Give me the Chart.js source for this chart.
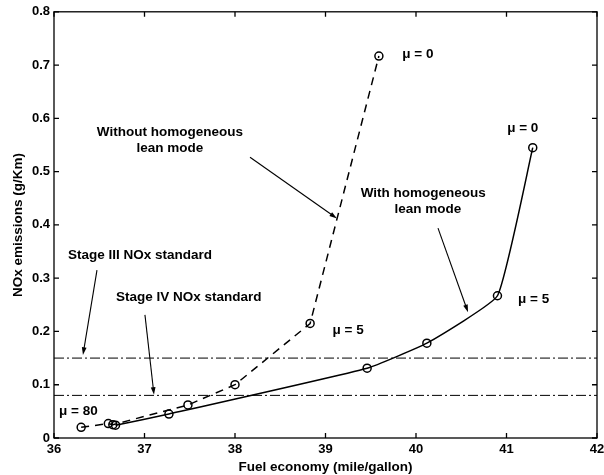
<!DOCTYPE html>
<html><head><meta charset="utf-8">
<script src="https://cdn.jsdelivr.net/npm/chart.js@4/dist/chart.umd.min.js"></script>
<style>html,body{margin:0;padding:0;background:#fff}#wrap{width:604px;height:475px;position:relative}</style>
</head><body><div id="wrap"><canvas id="c"></canvas></div>
<script>
// ---- data ----
const withoutX = [36.30, 36.60, 36.65, 37.48, 38.00, 38.83, 39.59];
const withoutY = [0.020, 0.027, 0.025, 0.062, 0.100, 0.215, 0.717];
const withX    = [36.68, 37.27, 39.46, 40.12, 40.90, 41.29];
const withY    = [0.024, 0.045, 0.131, 0.178, 0.267, 0.545];
const stageX   = [36, 42];
const stageIII = [0.15, 0.15];
const stageIV  = [0.08, 0.08];
const xTicks = [36, 37, 38, 39, 40, 41, 42];
const yTicks = [0, 0.1, 0.2, 0.3, 0.4, 0.5, 0.6, 0.7, 0.8];
const xTitle = 'Fuel economy (mile/gallon)';
const yTitle = 'NOx emissions (g/Km)';
// annotation texts (data coordinates)
const noteText = ['Without homogeneous', 'lean mode', 'With homogeneous', 'lean mode',
                  'μ = 0', 'μ = 0', 'μ = 5', 'μ = 5', 'μ = 80',
                  'Stage III NOx standard', 'Stage IV NOx standard'];
const noteX = [37.28, 37.28, 40.08, 40.13, 40.02, 41.18, 39.25, 41.30, 36.27, 36.95, 37.49];
const noteY = [0.573, 0.543, 0.459, 0.429, 0.720, 0.581, 0.202, 0.260, 0.051, 0.343, 0.264];
// annotation arrows (data coordinates: from -> to)
const arrowX0 = [38.166, 40.243, 36.475, 37.005];
const arrowY0 = [0.527, 0.394, 0.315, 0.231];
const arrowX1 = [39.127, 40.575, 36.320, 37.105];
const arrowY1 = [0.412, 0.236, 0.156, 0.081];

const FONT = '"Liberation Sans", Arial, Helvetica, sans-serif';
const pts = (xs, ys) => xs.map((x, i) => ({x, y: ys[i]}));

const frame = {
  id: 'frame',
  afterDatasetsDraw(chart) {
    const {ctx, chartArea: a, scales: {x, y}} = chart;
    ctx.save();
    ctx.strokeStyle = '#000';
    ctx.lineWidth = 1.3;
    ctx.strokeRect(a.left, a.top, a.right - a.left, a.bottom - a.top);
    const L = 5;
    ctx.beginPath();
    xTicks.forEach(v => { const px = x.getPixelForValue(v);
      ctx.moveTo(px, a.bottom); ctx.lineTo(px, a.bottom - L);
      ctx.moveTo(px, a.top); ctx.lineTo(px, a.top + L); });
    yTicks.forEach(v => { const py = y.getPixelForValue(v);
      ctx.moveTo(a.left, py); ctx.lineTo(a.left + L, py);
      ctx.moveTo(a.right, py); ctx.lineTo(a.right - L, py); });
    ctx.stroke();
    // notes
    ctx.fillStyle = '#000';
    ctx.font = 'bold 13.5px ' + FONT;
    ctx.textAlign = 'center'; ctx.textBaseline = 'middle';
    noteText.forEach((t, i) => ctx.fillText(t, x.getPixelForValue(noteX[i]), y.getPixelForValue(noteY[i])));
    // arrows
    ctx.lineWidth = 1.1;
    arrowX0.forEach((_, i) => {
      const x0 = x.getPixelForValue(arrowX0[i]), y0 = y.getPixelForValue(arrowY0[i]);
      const x1 = x.getPixelForValue(arrowX1[i]), y1 = y.getPixelForValue(arrowY1[i]);
      const ang = Math.atan2(y1 - y0, x1 - x0), h = 8, w = 0.3;
      ctx.beginPath(); ctx.moveTo(x0, y0);
      ctx.lineTo(x1 - Math.cos(ang) * h * 0.8, y1 - Math.sin(ang) * h * 0.8); ctx.stroke();
      ctx.beginPath(); ctx.moveTo(x1, y1);
      ctx.lineTo(x1 - h * Math.cos(ang - w), y1 - h * Math.sin(ang - w));
      ctx.lineTo(x1 - h * Math.cos(ang + w), y1 - h * Math.sin(ang + w));
      ctx.closePath(); ctx.fill();
    });
    ctx.restore();
  }
};

new Chart(document.getElementById('c'), {
  type: 'scatter',
  data: {
    datasets: [
      {data: pts(stageX, stageIII), showLine: true, borderColor: '#000', borderWidth: 1, borderDash: [10, 3, 2, 3], pointRadius: 0},
      {data: pts(stageX, stageIV), showLine: true, borderColor: '#000', borderWidth: 1, borderDash: [10, 3, 2, 3], pointRadius: 0},
      {data: pts(withoutX, withoutY), showLine: true, borderColor: '#000', borderWidth: 1.5, borderDash: [8, 6],
       pointRadius: 4, pointBorderWidth: 1.5, pointBackgroundColor: 'rgba(0,0,0,0)', pointBorderColor: '#000'},
      {data: pts(withX, withY), showLine: true, borderColor: '#000', borderWidth: 1.5, tension: 0.12,
       pointRadius: 4, pointBorderWidth: 1.5, pointBackgroundColor: 'rgba(0,0,0,0)', pointBorderColor: '#000'}
    ]
  },
  options: {
    responsive: true, maintainAspectRatio: false, animation: false,
    layout: {padding: {left: 0, right: 0, top: 11, bottom: 0}},
    plugins: {legend: {display: false}, tooltip: {enabled: false}},
    scales: {
      x: {type: 'linear', min: 36, max: 42,
          afterBuildTicks: s => { s.ticks = xTicks.map(v => ({value: v})); },
          afterFit: s => { s.height = 37; s.paddingLeft = 0; s.paddingRight = 7; },
          grid: {display: true, drawOnChartArea: false, drawTicks: false},
          border: {display: false},
          ticks: {padding: 4, color: '#000', font: {family: FONT, size: 13, weight: 'bold'}, maxRotation: 0},
          title: {display: true, text: xTitle, color: '#000', padding: 0, font: {family: FONT, size: 13.5, weight: 'bold'}}},
      y: {type: 'linear', min: 0, max: 0.8,
          afterBuildTicks: s => { s.ticks = yTicks.map(v => ({value: v})); },
          afterFit: s => { s.width = 54; },
          grid: {display: true, drawOnChartArea: false, drawTicks: false},
          border: {display: false},
          ticks: {padding: 4, color: '#000', font: {family: FONT, size: 13, weight: 'bold'}, callback: v => (v === 0 ? '0' : v.toFixed(1))},
          title: {display: true, text: yTitle, color: '#000', padding: {top: 10, bottom: 0}, font: {family: FONT, size: 13.5, weight: 'bold'}}}
    }
  },
  plugins: [frame]
});
</script></body></html>
